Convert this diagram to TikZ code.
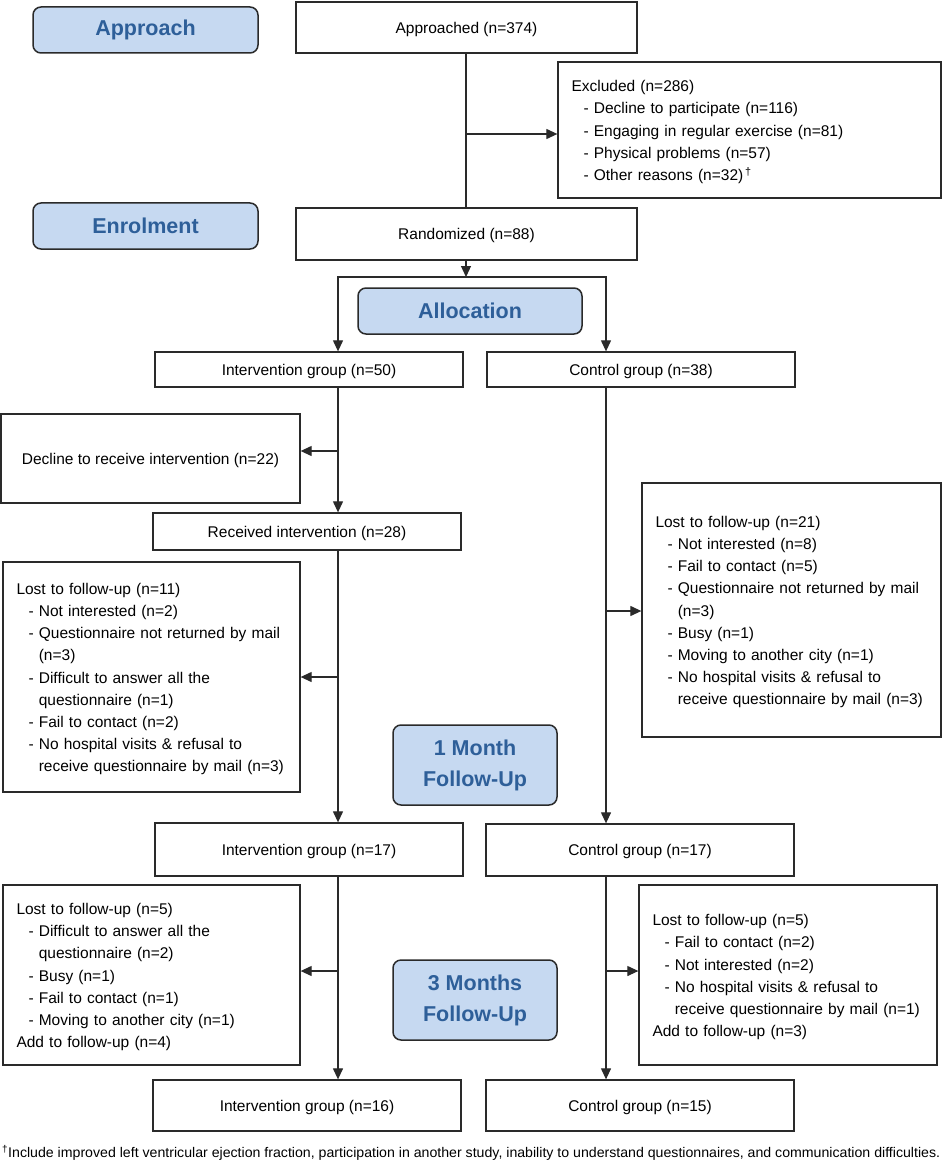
\documentclass[tikz,border=0pt]{standalone}
\usepackage{fontspec}
\usepackage{graphicx}
\setmainfont{Liberation Sans}
\usetikzlibrary{arrows.meta}
\definecolor{lblfill}{HTML}{C6D9F1}
\definecolor{lbltext}{HTML}{2E5F99}
\definecolor{boxline}{HTML}{2A2A2A}
\newcommand{\itm}[1]{\hspace*{12pt}- #1}
\newcommand{\cnt}[1]{\hspace*{12pt}\phantom{- }#1}
\newcommand{\fl}{\rule{0pt}{15.5pt}}
\begin{document}
\begin{tikzpicture}[x=1pt,y=-1pt,
  box/.style={draw=boxline, line width=1.3pt, inner sep=0pt, font=\fontsize{15.5}{22.2}\selectfont, anchor=center},
  sbox/.style={box, text depth=0pt},
  multibox/.style={box, align=left, inner xsep=13.5pt},
  lbl/.style={draw=boxline, line width=1.5pt, fill=lblfill, rounded corners=8pt, inner sep=0pt, text=lbltext, font=\bfseries\fontsize{21.5}{31}\selectfont, align=center},
  arr/.style={line width=1.2pt, draw=boxline, -{Triangle[length=11pt,width=10pt]}},
  ln/.style={line width=1.2pt, draw=boxline}]
\useasboundingbox (0,0) rectangle (943,1166);
% column coordinates
\coordinate (colA) at (338,0);
\coordinate (colB) at (606,0);
\coordinate (colM) at (466,0);
% labels
\node[lbl, minimum width=225pt, minimum height=46pt] (lapp) at (145.5,30) {Approach};
\node[lbl, minimum width=225pt, minimum height=46pt] (lenr) at (145.5,226) {Enrolment};
\node[lbl, minimum width=224pt, minimum height=46pt] (lall) at (470,311) {Allocation};
\node[lbl, minimum width=164pt, minimum height=80pt] (l1m) at (475,765) {1 Month\\Follow-Up};
\node[lbl, minimum width=164pt, minimum height=80pt] (l3m) at (475,1000) {3 Months\\Follow-Up};
% boxes
\node[sbox, minimum width=341pt, minimum height=51pt] (appr) at (466.5,27.5) {Approached (n=374)};
\node[multibox, text width=356pt, minimum height=136pt] (excl) at (749.5,130) {\fl Excluded (n=286)\\
\itm{Decline to participate (n=116)}\\
\itm{Engaging in regular exercise (n=81)}\\
\itm{Physical problems (n=57)}\\
\itm{Other reasons (n=32)\textsuperscript{\,†}}};
\node[sbox, minimum width=341pt, minimum height=52pt] (rand) at (466.5,234) {Randomized (n=88)};
\node[sbox, minimum width=308pt, minimum height=35pt] (int50) at (309,369.5) {Intervention group (n=50)};
\node[sbox, minimum width=308pt, minimum height=35pt] (ctl38) at (641,369.5) {Control group (n=38)};
\node[sbox, minimum width=299pt, minimum height=89pt] (decl) at (150.5,458.5) {Decline to receive intervention (n=22)};
\node[sbox, minimum width=308pt, minimum height=37pt] (recv) at (307,531.5) {Received intervention (n=28)};
\node[multibox, text width=270pt, minimum height=230pt] (lost11) at (151.5,677) {\fl Lost to follow-up (n=11)\\
\itm{Not interested (n=2)}\\
\itm{Questionnaire not returned by mail}\\
\cnt{(n=3)}\\
\itm{Difficult to answer all the}\\
\cnt{questionnaire (n=1)}\\
\itm{Fail to contact (n=2)}\\
\itm{No hospital visits \& refusal to}\\
\cnt{receive questionnaire by mail (n=3)}};
\node[multibox, text width=272pt, minimum height=254pt] (lost21) at (791.5,610) {\fl Lost to follow-up (n=21)\\
\itm{Not interested (n=8)}\\
\itm{Fail to contact (n=5)}\\
\itm{Questionnaire not returned by mail}\\
\cnt{(n=3)}\\
\itm{Busy (n=1)}\\
\itm{Moving to another city (n=1)}\\
\itm{No hospital visits \& refusal to}\\
\cnt{receive questionnaire by mail (n=3)}};
\node[sbox, minimum width=308pt, minimum height=53pt] (int17) at (309,849.5) {Intervention group (n=17)};
\node[sbox, minimum width=308pt, minimum height=52pt] (ctl17) at (640,850) {Control group (n=17)};
\node[multibox, text width=270pt, minimum height=180pt] (lost5a) at (151.5,975) {\fl Lost to follow-up (n=5)\\
\itm{Difficult to answer all the}\\
\cnt{questionnaire (n=2)}\\
\itm{Busy (n=1)}\\
\itm{Fail to contact (n=1)}\\
\itm{Moving to another city (n=1)}\\
Add to follow-up (n=4)};
\node[multibox, text width=271pt, minimum height=180pt] (lost5b) at (788,975) {\fl Lost to follow-up (n=5)\\
\itm{Fail to contact (n=2)}\\
\itm{Not interested (n=2)}\\
\itm{No hospital visits \& refusal to}\\
\cnt{receive questionnaire by mail (n=1)}\\
Add to follow-up (n=3)};
\node[sbox, minimum width=308pt, minimum height=51pt] (int16) at (307,1105.5) {Intervention group (n=16)};
\node[sbox, minimum width=308pt, minimum height=51pt] (ctl15) at (640,1105.5) {Control group (n=15)};
\node[anchor=west, inner sep=0pt, font=\fontsize{14}{16}\selectfont] (foot) at (2,1153) {\resizebox{938pt}{\height}{\textsuperscript{†}Include improved left ventricular ejection fraction, participation in another study, inability to understand questionnaires, and communication difficulties.}};
% branch coordinates
\coordinate (bexc) at (466,134);
\coordinate (split) at (466,277);
\coordinate (bdec) at (338,451);
\coordinate (b11) at (338,677);
\coordinate (b21) at (606,611);
\coordinate (b5a) at (338,971);
\coordinate (b5b) at (606,971);
% connectors
\draw[ln] (appr.south -| colM) -- (rand.north -| colM);
\draw[arr] (bexc) -- (bexc -| excl.west);
\draw[arr] (rand.south -| colM) -- (split);
\draw[arr] (split) -| (int50.north -| colA);
\draw[arr] (split) -| (ctl38.north -| colB);
\draw[arr] (int50.south -| colA) -- (recv.north -| colA);
\draw[arr] (bdec) -- (bdec -| decl.east);
\draw[arr] (recv.south -| colA) -- (int17.north -| colA);
\draw[arr] (b11) -- (b11 -| lost11.east);
\draw[arr] (ctl38.south -| colB) -- (ctl17.north -| colB);
\draw[arr] (b21) -- (b21 -| lost21.west);
\draw[arr] (int17.south -| colA) -- (int16.north -| colA);
\draw[arr] (b5a) -- (b5a -| lost5a.east);
\draw[arr] (ctl17.south -| colB) -- (ctl15.north -| colB);
\draw[arr] (b5b) -- (b5b -| lost5b.west);
\end{tikzpicture}
\end{document}
